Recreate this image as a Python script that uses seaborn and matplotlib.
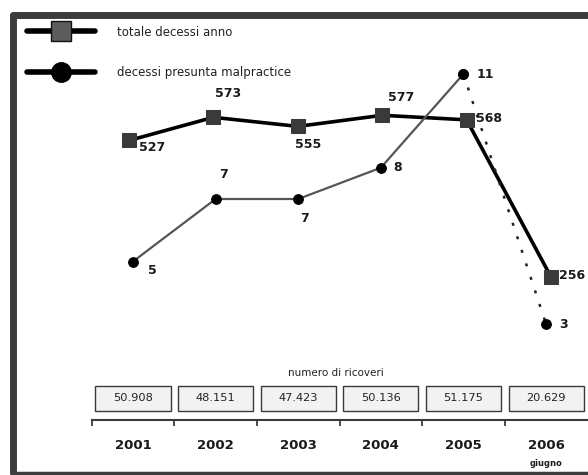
import numpy as np
import pandas as pd
import matplotlib
matplotlib.use('Agg')
import matplotlib.pyplot as plt
from matplotlib.lines import Line2D
from matplotlib.patches import Rectangle
import seaborn as sns

# dati
anni = ['2001', '2002', '2003', '2004', '2005', '2006']
totale_decessi = [527, 573, 555, 577, 568, 256]
decessi_malpractice = [5, 7, 7, 8, 11, 3]
ricoveri = [50908, 48151, 47423, 50136, 51175, 20629]

sns.set_theme(style='white')
plt.rcParams['font.family'] = ['DejaVu Sans']

fig = plt.figure(figsize=(5.88, 4.75), dpi=100)
fig.patch.set_facecolor('white')

# due assi sovrapposti con scale indipendenti
ax_tot = fig.add_axes([0, 0, 1, 1])
ax_mal = fig.add_axes([0, 0, 1, 1])
for a in (ax_tot, ax_mal):
    a.set_facecolor('none')
    for s in a.spines.values():
        s.set_visible(False)
    a.set_yticks([])

df = pd.DataFrame({'i': np.arange(len(anni)), 'anno': anni,
                   'tot': totale_decessi, 'mal': decessi_malpractice})

# totale decessi
sns.lineplot(data=df, x='i', y='tot', ax=ax_tot, color='black', lw=2.6,
             marker='s', markersize=10, markerfacecolor='#3a3a3a',
             markeredgecolor='#3a3a3a', zorder=3)
ax_tot.set_xlim(-1.528, 5.438)
ax_tot.set_ylim(-137.1, 805.9)
ax_tot.set_xticks([])
ax_tot.set_xlabel('')
ax_tot.set_ylabel('')

# decessi presunta malpractice
sns.lineplot(data=df.iloc[:5], x='i', y='mal', ax=ax_mal, color='#555555', lw=1.6,
             marker='o', markersize=7, markerfacecolor='black',
             markeredgecolor='black', zorder=2)
sns.lineplot(data=df.iloc[4:], x='i', y='mal', ax=ax_mal, color='#222222', lw=1.8,
             linestyle=(0, (1.2, 4.5)), marker='o', markersize=7,
             markerfacecolor='black', markeredgecolor='black', zorder=2)
ax_mal.set_xlim(-1.61, 5.508)
ax_mal.set_ylim(-1.832, 13.368)
ax_mal.set_xlabel('')
ax_mal.set_ylabel('')

# etichette valori
off_tot = [(23, -7), (15, 24), (10, -18), (19, 18), (22, 1), (21, 1)]
for i, (v, (dx, dy)) in enumerate(zip(totale_decessi, off_tot)):
    ax_tot.annotate(str(v), (i, v), xytext=(dx * 0.72, dy * 0.72),
                    textcoords='offset points', ha='center', va='center',
                    fontsize=9, fontweight='bold', color='#1a1a1a')
off_mal = [(19, -9), (8, 25), (6, -20), (17, 0), (22, 0), (17, 0)]
for i, (v, (dx, dy)) in enumerate(zip(decessi_malpractice, off_mal)):
    ax_mal.annotate(str(v), (i, v), xytext=(dx * 0.72, dy * 0.72),
                    textcoords='offset points', ha='center', va='center',
                    fontsize=9, fontweight='bold', color='#1a1a1a')

# asse degli anni
sp = ax_mal.spines['bottom']
sp.set_visible(True)
sp.set_position(('axes', 1 - 420 / 475))
sp.set_bounds(-0.5, 5.55)
sp.set_color('#3a3a3a')
sp.set_linewidth(1.5)
ax_mal.set_xticks(range(len(anni)))
ax_mal.set_xticklabels(anni, fontsize=9.5, fontweight='bold', color='#1a1a1a')
ax_mal.set_xticks(np.arange(len(anni)) - 0.5, minor=True)
ax_mal.tick_params(axis='x', which='major', length=0, pad=14)
ax_mal.tick_params(axis='x', which='minor', length=4, width=1.3,
                   color='#3a3a3a', direction='out', bottom=True)
ax_mal.text(5, 1 - 463 / 475, 'giugno', transform=ax_mal.get_xaxis_transform(),
            ha='center', va='center', fontsize=6, fontweight='bold', color='#1a1a1a')

# numero di ricoveri
trans = ax_mal.get_xaxis_transform()
ax_mal.text(2.45, 1 - 372.7 / 475, 'numero di ricoveri', transform=trans,
            ha='center', va='center', fontsize=7.5, color='#222222')
for i, r in enumerate(ricoveri):
    ax_mal.add_patch(Rectangle((i - 0.454, 1 - 410.7 / 475), 0.908, 25 / 475,
                               transform=trans, facecolor='#f2f2f2',
                               edgecolor='#3a3a3a', lw=1, clip_on=False))
    ax_mal.text(i, 1 - 398.2 / 475, f'{r:,}'.replace(',', '.'), transform=trans,
                ha='center', va='center', fontsize=8.2, color='#222222')

# legenda
handles = [
    Line2D([], [], color='black', lw=4, marker='s', markersize=14,
           markerfacecolor='#5c5c5c', markeredgecolor='#111111', markeredgewidth=1),
    Line2D([], [], color='black', lw=4, marker='o', markersize=14,
           markerfacecolor='black', markeredgecolor='black'),
]
fig.legend(handles, ['totale decessi anno', 'decessi presunta malpractice'],
           loc='center left', bbox_to_anchor=(27 / 588, 1 - 52.5 / 475),
           frameon=False, fontsize=8.5, handlelength=5.8, handletextpad=1.8,
           labelspacing=2.35, borderpad=0, borderaxespad=0, labelcolor='#222222')

# cornice
col = '#3d3d3d'
fig.add_artist(Line2D([13 / 588, 1.02], [1 - 14.5 / 475, 1 - 14.5 / 475],
                      transform=fig.transFigure, color=col, lw=5))
fig.add_artist(Line2D([13 / 588, 13 / 588], [1 - 14.5 / 475, 1 - 473 / 475],
                      transform=fig.transFigure, color=col, lw=5))
fig.add_artist(Line2D([13 / 588, 1.02], [1 - 473 / 475, 1 - 473 / 475],
                      transform=fig.transFigure, color=col, lw=2.5))

fig.savefig('out.png', dpi=100, facecolor='white')
